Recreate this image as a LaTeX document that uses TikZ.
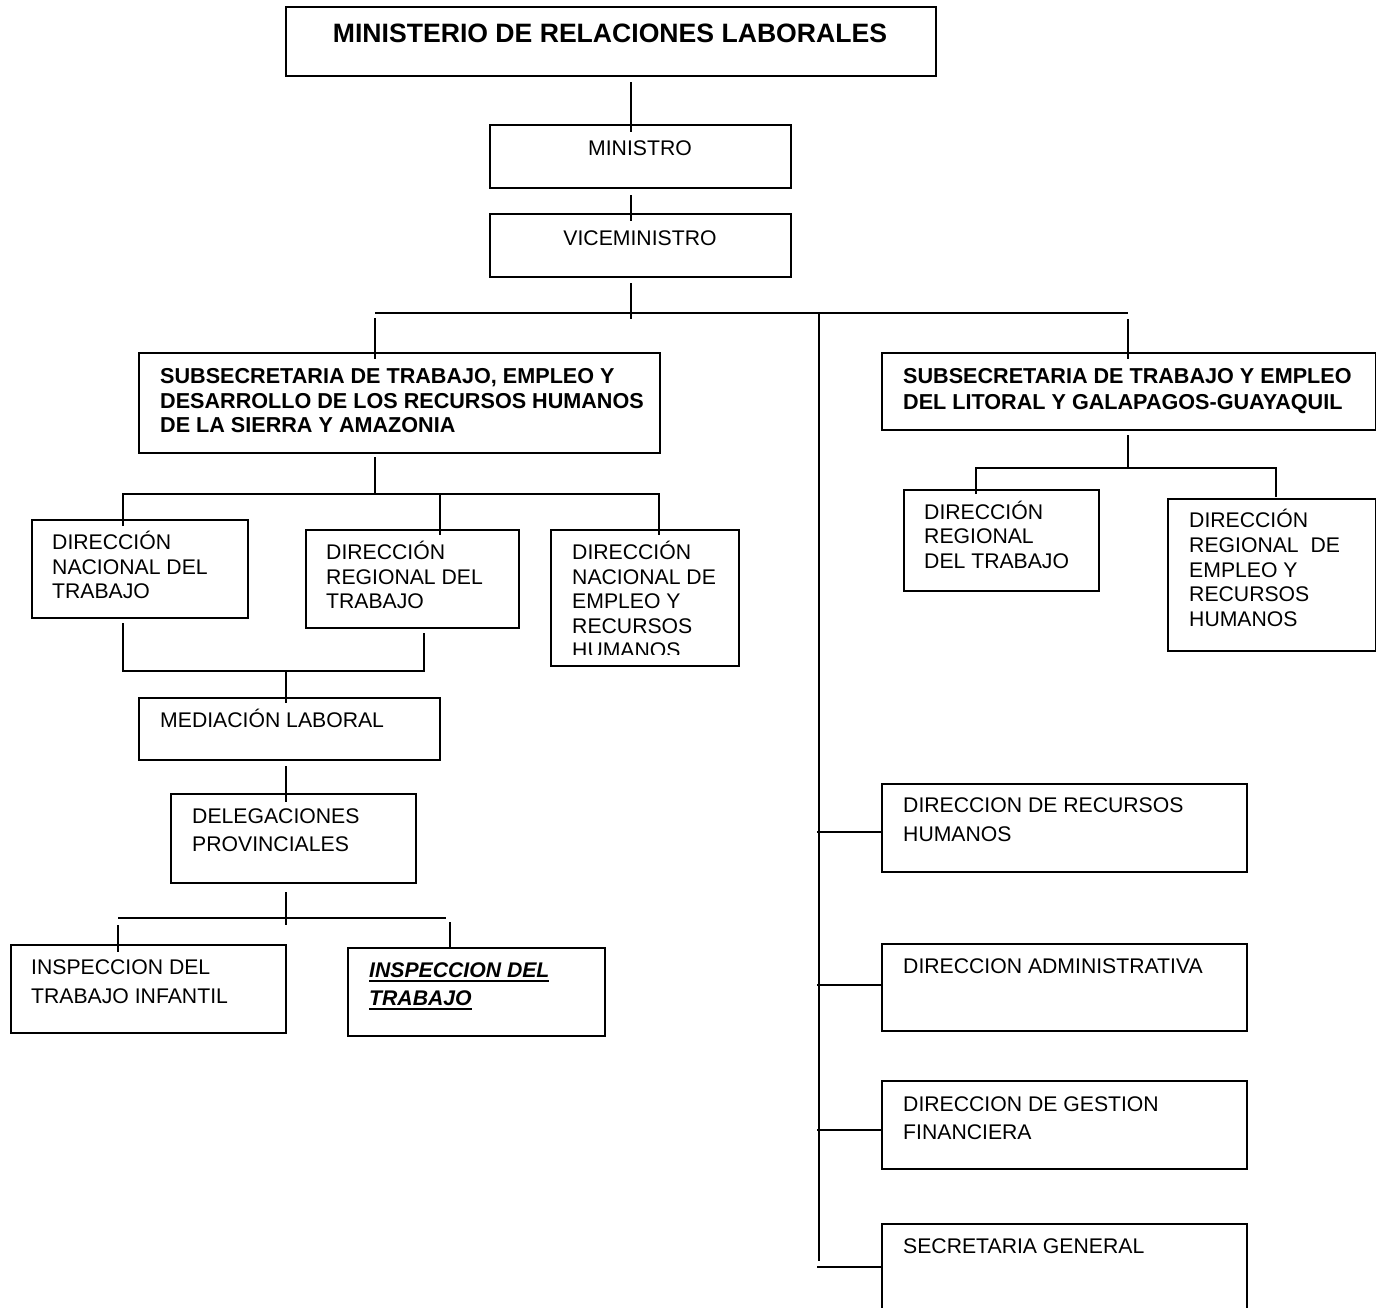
\documentclass[tikz,border=0pt]{standalone}
\usepackage{fontspec}
\setmainfont{Liberation Sans}
\newcommand\mlines[2]{\parbox[t]{560pt}{\fontsize{21.2}{#1}\selectfont #2}}
\newcommand\blines[2]{\parbox[t]{560pt}{\fontsize{21.6}{#1}\selectfont\bfseries #2}}
\newcommand\ulx[1]{\leavevmode\setbox0=\hbox{#1}\rlap{\rule[-4.5pt]{\wd0}{2pt}}\box0}
\tikzset{
  orgbox/.style={draw, line width=2pt, inner sep=0pt, anchor=north west},
  txt/.style={inner sep=0pt, anchor=base west, font=\fontsize{21.2}{24.5}\selectfont},
  conn/.style={line width=2pt},
}
\begin{document}
\begin{tikzpicture}[x=1pt,y=-1pt]
\useasboundingbox (0,0) rectangle (1376,1307);
\fill[white] (0,0) rectangle (1376,1307);

% ---------- boxes ----------
\node[orgbox, minimum width=650pt, minimum height=69pt] (top) at (285,6) {};
\node[orgbox, minimum width=301pt, minimum height=63pt] (min) at (489,124) {};
\node[orgbox, minimum width=301pt, minimum height=63pt] (vice) at (489,213) {};
\node[orgbox, minimum width=521pt, minimum height=100pt] (subL) at (138,352) {};
\node[orgbox, minimum width=494pt, minimum height=77pt] (subR) at (881,352) {};
\node[orgbox, minimum width=216pt, minimum height=98pt] (dnt) at (31,519) {};
\node[orgbox, minimum width=213pt, minimum height=98pt] (drt) at (305,529) {};
\node[orgbox, minimum width=188pt, minimum height=136pt] (dne) at (550,529) {};
\node[orgbox, minimum width=301pt, minimum height=62pt] (med) at (138,697) {};
\node[orgbox, minimum width=245pt, minimum height=89pt] (del) at (170,793) {};
\node[orgbox, minimum width=275pt, minimum height=88pt] (insA) at (10,944) {};
\node[orgbox, minimum width=257pt, minimum height=88pt] (insB) at (347,947) {};
\node[orgbox, minimum width=195pt, minimum height=101pt] (drtB) at (903,489) {};
\node[orgbox, minimum width=208pt, minimum height=152pt] (drerh) at (1167,498) {};
\node[orgbox, minimum width=365pt, minimum height=88pt] (drh) at (881,783) {};
\node[orgbox, minimum width=365pt, minimum height=87pt] (da) at (881,943) {};
\node[orgbox, minimum width=365pt, minimum height=88pt] (dgf) at (881,1080) {};
\node[orgbox, minimum width=365pt, minimum height=110pt] (sg) at (881,1223) {};

% ---------- texts ----------
\node[txt, anchor=base, font=\fontsize{26.6}{30}\selectfont\bfseries] (ttop) at (610,42.5) {MINISTERIO DE RELACIONES LABORALES};
\node[txt, anchor=base] (tmin) at (640,155.5) {MINISTRO};
\node[txt, anchor=base] (tvice) at (640,245) {VICEMINISTRO};
\node[txt] (tsubL) at (160,383.5) {\blines{24.5}{SUBSECRETARIA DE TRABAJO, EMPLEO Y\\DESARROLLO DE LOS RECURSOS HUMANOS\\DE LA SIERRA Y AMAZONIA}};
\node[txt] (tsubR) at (903,383.5) {\blines{25.5}{SUBSECRETARIA DE TRABAJO Y EMPLEO\\DEL LITORAL Y GALAPAGOS-GUAYAQUIL}};
\node[txt] (tdnt) at (52,549.5) {\mlines{24.5}{DIRECCIÓN\\NACIONAL DEL\\TRABAJO}};
\node[txt] (tdrt) at (326,559.5) {\mlines{24.5}{DIRECCIÓN\\REGIONAL DEL\\TRABAJO}};
\begin{scope}
\clip (550,529) rectangle (738,654);
\node[txt] (tdne) at (572,559.5) {\mlines{24.5}{DIRECCIÓN\\NACIONAL DE\\EMPLEO Y\\RECURSOS\\HUMANOS}};
\end{scope}
\node[txt] (tmed) at (160,727.5) {MEDIACIÓN LABORAL};
\node[txt] (tdel) at (192,823) {\mlines{28.5}{DELEGACIONES\\PROVINCIALES}};
\node[txt] (tinsA) at (31,974.5) {\mlines{28.5}{INSPECCION DEL\\TRABAJO INFANTIL}};
\node[txt] (tinsB) at (369,977.5) {\mlines{28}{\bfseries\itshape \ulx{INSPECCION DEL}\\\ulx{TRABAJO}}};
\node[txt] (tdrtB) at (924,519) {\mlines{24.8}{DIRECCIÓN\\REGIONAL\\DEL TRABAJO}};
\node[txt] (tdrerh) at (1189,527.5) {\mlines{24.8}{DIRECCIÓN\\REGIONAL~~DE\\EMPLEO Y\\RECURSOS\\HUMANOS}};
\node[txt] (tdrh) at (903,812.5) {\mlines{28.5}{DIRECCION DE RECURSOS\\HUMANOS}};
\node[txt] (tda) at (903,973.5) {DIRECCION ADMINISTRATIVA};
\node[txt] (tdgf) at (903,1111.5) {\mlines{27.5}{DIRECCION DE GESTION\\FINANCIERA}};
\node[txt] (tsg) at (903,1253.5) {SECRETARIA GENERAL};

% ---------- connector points ----------
\coordinate (a1) at (631,82);   \coordinate (a2) at (631,132);
\coordinate (a3) at (631,195);  \coordinate (a4) at (631,221);
\coordinate (a5) at (631,283);  \coordinate (a6) at (631,319);
\coordinate (busL) at (375,313); \coordinate (busR) at (1128,313);
\coordinate (tL1) at (375,318); \coordinate (tL2) at (375,359);
\coordinate (tR1) at (1128,319); \coordinate (tR2) at (1128,359);
\coordinate (trA) at (819,313); \coordinate (trB) at (819,1261);
\coordinate (b1) at (817,832); \coordinate (b2) at (817,985);
\coordinate (b3) at (817,1130); \coordinate (b4) at (817,1267);
% left subtree
\coordinate (c1) at (375,457); \coordinate (c2) at (375,494);
\coordinate (c3) at (123,526); \coordinate (c4) at (440,494);
\coordinate (c5) at (440,535); \coordinate (c6) at (659,535);
\coordinate (d1) at (123,623); \coordinate (d2) at (123,671);
\coordinate (d3) at (424,671); \coordinate (d4) at (424,633);
\coordinate (d5) at (286,671); \coordinate (d6) at (286,703);
\coordinate (e1) at (286,766); \coordinate (e2) at (286,802);
\coordinate (f1) at (286,892); \coordinate (f2) at (286,925);
\coordinate (fL) at (118,918); \coordinate (fR) at (446,918);
\coordinate (f3) at (118,925); \coordinate (f4) at (118,952);
\coordinate (f5) at (450,922); \coordinate (f6) at (450,948);
% right subtree
\coordinate (g1) at (1128,435); \coordinate (g2) at (1128,468);
\coordinate (g3) at (976,494); \coordinate (g4) at (1276,497);

% ---------- connectors ----------
\draw[conn] (a1) -- (a2);
\draw[conn] (a3) -- (a4);
\draw[conn] (a5) -- (a6);
\draw[conn] (busL) -- (busR);
\draw[conn] (tL1) -- (tL2);
\draw[conn] (tR1) -- (tR2);
\draw[conn] (trA) -- (trB);
\draw[conn] (b1) -- (b1 -| drh.west);
\draw[conn] (b2) -- (b2 -| da.west);
\draw[conn] (b3) -- (b3 -| dgf.west);
\draw[conn] (b4) -- (b4 -| sg.west);

\draw[conn] (c1) -- (c2);
\draw[conn] (c3) -- (c3 |- c2) -- (c6 |- c2) -- (c6);
\draw[conn] (c4) -- (c5);
\draw[conn] (d1) -- (d2) -- (d3) -- (d4);
\draw[conn] (d5) -- (d6);
\draw[conn] (e1) -- (e2);
\draw[conn] (f1) -- (f2);
\draw[conn] (fL) -- (fR);
\draw[conn] (f3) -- (f4);
\draw[conn] (f5) -- (f6);

\draw[conn] (g1) -- (g2);
\draw[conn] (g3) -- (g3 |- g2) -- (g4 |- g2) -- (g4);
\end{tikzpicture}
\end{document}
